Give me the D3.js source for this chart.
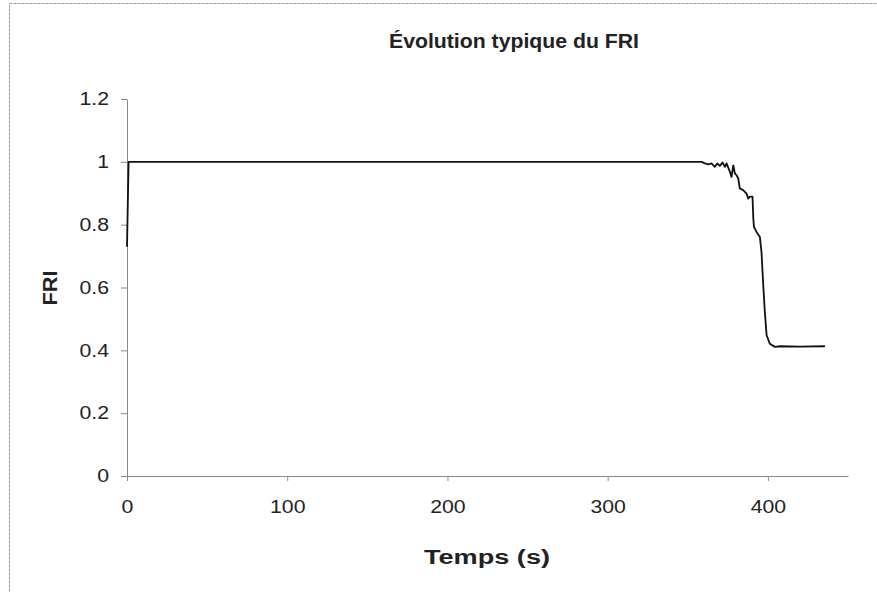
<!DOCTYPE html>
<html><head><meta charset="utf-8">
<script src="https://cdn.jsdelivr.net/npm/d3@7"></script>
<style>body{margin:0;background:#fff}svg{display:block}</style>
</head><body>
<svg id="c" width="877" height="592"></svg>
<script>
const titleText = "Évolution typique du FRI";
const xLabel = "Temps (s)";
const yLabel = "FRI";
const xTicks = [0, 100, 200, 300, 400];
const yTicks = [0, 0.2, 0.4, 0.6, 0.8, 1, 1.2];
const timeS = [0, 1, 100, 200, 300, 358.6, 360.7, 362.8, 364.8, 366.9, 368.4, 370.0, 371.7, 373.2, 374.2, 376.3, 377.3, 378.4, 379.4, 380.4, 381.5, 382.5, 384.6, 386.7, 387.7, 388.8, 390.4, 390.9, 391.3, 392.9, 395.0, 396.0, 397.1, 398.1, 399.2, 401.2, 404.4, 407.5, 420, 435.6];
const fri   = [0.73, 1.0, 1.0, 1.0, 1.0, 1.0, 0.995, 0.992, 0.995, 0.984, 0.995, 0.987, 0.998, 0.984, 0.995, 0.968, 0.952, 0.989, 0.963, 0.958, 0.947, 0.915, 0.910, 0.899, 0.883, 0.889, 0.889, 0.820, 0.793, 0.777, 0.761, 0.713, 0.607, 0.522, 0.448, 0.421, 0.411, 0.413, 0.412, 0.413];

const svg = d3.select("#c");
const font = "'Liberation Sans', Arial, sans-serif";

// chart border
svg.append("rect").attr("x", 9.5).attr("y", 3.5).attr("width", 900).attr("height", 600)
  .attr("fill", "none").attr("stroke", "#9a9a9a").attr("stroke-width", 1).attr("stroke-dasharray", "3,1");

const x = d3.scaleLinear().domain([0, 450]).range([127, 848]);
const y = d3.scaleLinear().domain([0, 1.2]).range([476, 99]);

const xAxis = svg.append("g").attr("transform", "translate(0,476)")
  .call(d3.axisBottom(x).tickValues(xTicks).tickSize(5).tickSizeOuter(0).tickPadding(19).tickFormat(d3.format("d")));
const yAxis = svg.append("g").attr("transform", "translate(127,0)")
  .call(d3.axisLeft(y).tickValues(yTicks).tickSize(6).tickSizeOuter(0).tickPadding(12).tickFormat(d => d3.format("")(+d.toFixed(1))));
[xAxis, yAxis].forEach(g => {
  g.selectAll("path.domain").attr("stroke", "#8a8a8a").attr("stroke-width", 1);
  g.selectAll(".tick line").attr("stroke", "#8a8a8a");
  g.selectAll(".tick text").attr("font-family", font).attr("font-size", 18).attr("fill", "#222")
    .each(function() {
      const w = this.getComputedTextLength();
      d3.select(this).attr("textLength", w * 1.18).attr("lengthAdjust", "spacingAndGlyphs");
    });
});

const line = d3.line().x((d, i) => x(timeS[i])).y(d => y(d));
svg.append("path").datum(fri).attr("d", line)
  .attr("fill", "none").attr("stroke", "#111").attr("stroke-width", 1.8).attr("stroke-linejoin", "round");

svg.append("text").attr("x", 514).attr("y", 48).attr("text-anchor", "middle")
  .attr("font-family", font).attr("font-weight", "bold").attr("font-size", 21).attr("fill", "#222")
  .attr("textLength", 250).attr("lengthAdjust", "spacingAndGlyphs").text(titleText);
svg.append("text").attr("x", 487).attr("y", 564).attr("text-anchor", "middle")
  .attr("font-family", font).attr("font-weight", "bold").attr("font-size", 20).attr("fill", "#222")
  .attr("textLength", 126).attr("lengthAdjust", "spacingAndGlyphs").text(xLabel);
svg.append("text").attr("transform", "translate(57,288) rotate(-90)").attr("text-anchor", "middle")
  .attr("font-family", font).attr("font-weight", "bold").attr("font-size", 21).attr("fill", "#222")
  .attr("textLength", 35).attr("lengthAdjust", "spacingAndGlyphs").text(yLabel);
</script>
</body></html>
